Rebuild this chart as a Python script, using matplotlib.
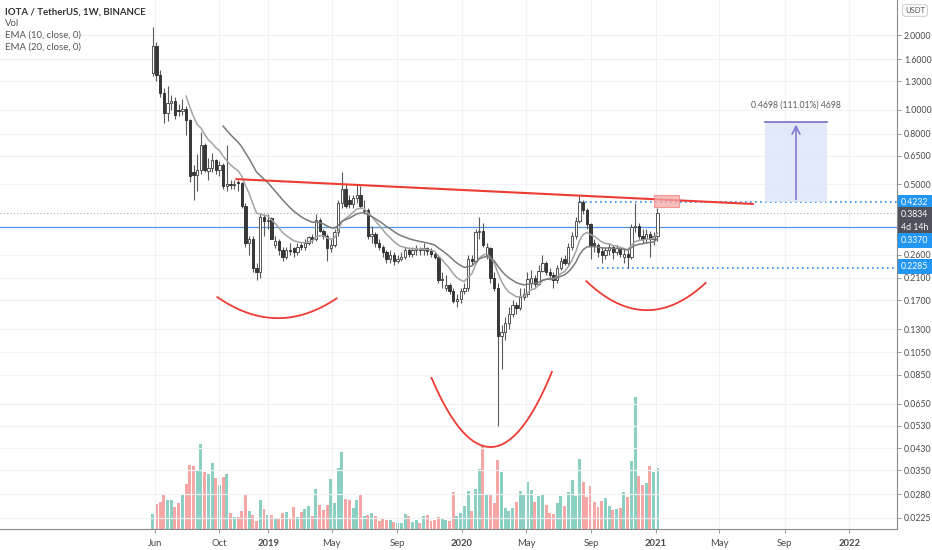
import numpy as np
import pandas as pd
import matplotlib
matplotlib.use('Agg')
import matplotlib.pyplot as plt
import matplotlib.dates as mdates
from matplotlib.patches import Rectangle
from matplotlib.ticker import NullLocator, FixedLocator, FixedFormatter

plt.rcParams['font.family'] = ['Lato', 'DejaVu Sans']

# ---------------- data ----------------
first_week = '2018-05-28'
opens = [1.40, 1.81, 1.38, 1.17, 0.97, 1.06, 1.08, 1.00, 0.99, 1.01,
         0.91, 0.56, 0.545, 0.57, 0.72, 0.565, 0.58, 0.625, 0.57, 0.60,
         0.49, 0.50, 0.495, 0.51, 0.505, 0.41, 0.29, 0.30, 0.23, 0.222,
         0.37, 0.355, 0.365, 0.285, 0.295, 0.27, 0.255, 0.272, 0.275, 0.265,
         0.283, 0.278, 0.29, 0.305, 0.30, 0.36, 0.325, 0.31, 0.275, 0.285,
         0.32, 0.42, 0.48, 0.43, 0.415, 0.44, 0.45, 0.39, 0.395, 0.31,
         0.315, 0.29, 0.28, 0.265, 0.25, 0.26, 0.245, 0.25, 0.255, 0.27,
         0.262, 0.27, 0.273, 0.27, 0.275, 0.27, 0.262, 0.255, 0.205, 0.19,
         0.195, 0.186, 0.169, 0.172, 0.185, 0.19, 0.25, 0.245, 0.32, 0.325,
         0.26, 0.275, 0.21, 0.19, 0.122, 0.126, 0.138, 0.15, 0.162, 0.158,
         0.176, 0.18, 0.20, 0.21, 0.198, 0.224, 0.24, 0.222, 0.215, 0.205,
         0.23, 0.25, 0.24, 0.28, 0.31, 0.355, 0.425, 0.395, 0.345, 0.29,
         0.285, 0.268, 0.258, 0.27, 0.28, 0.265, 0.275, 0.255, 0.262, 0.255,
         0.335, 0.34, 0.31, 0.30, 0.315, 0.30, 0.31]
highs = [2.15, 1.88, 1.45, 1.22, 1.25, 1.15, 1.12, 1.05, 1.10, 1.03,
         0.92, 0.60, 0.66, 0.81, 0.73, 0.64, 0.67, 0.63, 0.62, 0.61,
         0.72, 0.52, 0.52, 0.52, 0.51, 0.42, 0.31, 0.31, 0.24, 0.38,
         0.38, 0.38, 0.37, 0.31, 0.30, 0.28, 0.28, 0.29, 0.28, 0.29,
         0.29, 0.30, 0.31, 0.315, 0.38, 0.365, 0.33, 0.315, 0.30, 0.33,
         0.43, 0.56, 0.50, 0.45, 0.45, 0.495, 0.49, 0.43, 0.40, 0.34,
         0.32, 0.30, 0.285, 0.27, 0.27, 0.265, 0.26, 0.265, 0.28, 0.28,
         0.28, 0.285, 0.28, 0.29, 0.28, 0.275, 0.265, 0.26, 0.22, 0.215,
         0.20, 0.19, 0.18, 0.19, 0.20, 0.26, 0.26, 0.33, 0.37, 0.35,
         0.29, 0.28, 0.22, 0.20, 0.135, 0.145, 0.16, 0.17, 0.168, 0.19,
         0.19, 0.22, 0.225, 0.215, 0.235, 0.26, 0.245, 0.23, 0.22, 0.235,
         0.255, 0.26, 0.29, 0.32, 0.37, 0.45, 0.43, 0.40, 0.35, 0.30,
         0.29, 0.28, 0.28, 0.29, 0.285, 0.285, 0.28, 0.275, 0.27, 0.345,
         0.42, 0.35, 0.33, 0.33, 0.325, 0.32, 0.40]
lows = [1.36, 1.30, 1.12, 0.88, 0.90, 1.00, 0.92, 0.94, 0.95, 0.79,
        0.51, 0.43, 0.47, 0.55, 0.56, 0.52, 0.56, 0.55, 0.54, 0.48,
        0.47, 0.48, 0.48, 0.47, 0.40, 0.28, 0.26, 0.22, 0.205, 0.21,
        0.31, 0.33, 0.30, 0.275, 0.26, 0.245, 0.25, 0.26, 0.255, 0.26,
        0.27, 0.27, 0.285, 0.29, 0.295, 0.32, 0.30, 0.245, 0.265, 0.28,
        0.31, 0.40, 0.40, 0.40, 0.40, 0.42, 0.40, 0.38, 0.30, 0.29,
        0.28, 0.27, 0.255, 0.24, 0.24, 0.235, 0.24, 0.245, 0.25, 0.255,
        0.255, 0.26, 0.26, 0.26, 0.26, 0.255, 0.25, 0.20, 0.19, 0.185,
        0.18, 0.165, 0.16, 0.165, 0.18, 0.185, 0.235, 0.24, 0.30, 0.28,
        0.25, 0.20, 0.185, 0.053, 0.09, 0.118, 0.13, 0.145, 0.15, 0.155,
        0.17, 0.175, 0.19, 0.19, 0.195, 0.22, 0.215, 0.205, 0.19, 0.20,
        0.225, 0.235, 0.235, 0.27, 0.30, 0.35, 0.38, 0.33, 0.25, 0.265,
        0.255, 0.24, 0.25, 0.26, 0.25, 0.26, 0.255, 0.24, 0.229, 0.25,
        0.32, 0.30, 0.29, 0.29, 0.255, 0.285, 0.295]
closes = [1.81, 1.38, 1.17, 0.97, 1.06, 1.08, 0.95, 0.99, 1.01, 0.91,
          0.54, 0.545, 0.57, 0.72, 0.57, 0.58, 0.625, 0.57, 0.60, 0.49,
          0.50, 0.495, 0.50, 0.505, 0.41, 0.29, 0.30, 0.23, 0.222, 0.37,
          0.355, 0.36, 0.30, 0.295, 0.27, 0.255, 0.27, 0.268, 0.265, 0.28,
          0.278, 0.29, 0.305, 0.30, 0.36, 0.325, 0.31, 0.275, 0.285, 0.32,
          0.42, 0.48, 0.41, 0.415, 0.44, 0.45, 0.41, 0.395, 0.31, 0.315,
          0.29, 0.28, 0.265, 0.25, 0.26, 0.245, 0.25, 0.255, 0.27, 0.262,
          0.27, 0.273, 0.27, 0.275, 0.268, 0.262, 0.255, 0.205, 0.208, 0.195,
          0.186, 0.169, 0.172, 0.185, 0.19, 0.25, 0.245, 0.32, 0.325, 0.285,
          0.28, 0.21, 0.19, 0.122, 0.126, 0.138, 0.15, 0.162, 0.158, 0.176,
          0.18, 0.208, 0.21, 0.198, 0.224, 0.24, 0.222, 0.215, 0.205, 0.23,
          0.245, 0.24, 0.28, 0.31, 0.355, 0.425, 0.395, 0.345, 0.285, 0.285,
          0.265, 0.258, 0.27, 0.28, 0.265, 0.275, 0.262, 0.262, 0.255, 0.335,
          0.34, 0.31, 0.30, 0.315, 0.30, 0.31, 0.383]
volumes = [15, 25, 27, 34, 29, 29, 22, 26, 34, 45,
           64, 63, 58, 85, 57, 55, 66, 51, 44, 52,
           55, 16, 12, 12, 18, 34, 18, 14, 8, 29,
           20, 14, 14, 11, 11, 16, 17, 11, 22, 12,
           17, 20, 23, 13, 40, 24, 19, 24, 50, 26,
           61, 77, 30, 29, 21, 29, 35, 13, 14, 16,
           13, 8, 10, 9, 9, 7, 6, 6, 15, 13,
           7, 9, 6, 13, 14, 8, 9, 12, 10, 9,
           8, 37, 13, 16, 23, 38, 18, 40, 60, 83,
           35, 34, 26, 69, 57, 21, 18, 21, 27, 38,
           34, 47, 39, 27, 33, 35, 24, 16, 15, 26,
           33, 23, 37, 49, 33, 70, 47, 32, 43, 27,
           22, 28, 31, 23, 19, 20, 21, 37, 32, 68,
           132, 53, 44, 46, 63, 57, 61]

ytick_values = [2.0, 1.6, 1.3, 1.0, 0.8, 0.65, 0.5, 0.26, 0.21, 0.17, 0.13,
                0.105, 0.085, 0.065, 0.053, 0.043, 0.035, 0.028, 0.0225]
xtick_dates = ['2018-06-01', '2018-10-01', '2019-01-01', '2019-05-01', '2019-09-01',
               '2020-01-01', '2020-05-01', '2020-09-01', '2021-01-01', '2021-05-01',
               '2021-09-01', '2022-01-01']
xtick_labels = ['Jun', 'Oct', '2019', 'May', 'Sep', '2020', 'May', 'Sep', '2021',
                'May', 'Sep', '2022']

# annotations (date, price)
neck_dates = ['2018-11-02', '2021-07-03']
neck_prices = [0.524, 0.416]
box_dates = ['2020-12-28', '2021-02-13']
box_prices = [0.404, 0.452]
measure_dates = ['2021-07-26', '2021-11-20']
measure_prices = [0.4232, 0.893]
measure_text = '0.4698 (111.01%) 4698'
left_arc = (['2018-09-27', '2019-01-13', '2019-05-10'], [0.175, 0.144, 0.173])
head_arc = (['2019-11-05', '2020-02-29', '2020-06-19'], [0.0826, 0.0435, 0.0873])
right_arc = (['2020-08-23', '2020-12-16', '2021-04-05'], [0.203, 0.155, 0.1996])
resist_level, resist_start = 0.4232, '2020-08-11'
support_level, support_start = 0.2285, '2020-09-13'
blue_level = 0.3370
last_price = 0.3834

# ---------------- figure ----------------
W, H = 932, 550
fig = plt.figure(figsize=(W / 100, H / 100), dpi=100)
fig.patch.set_facecolor('white')
ax_bottom_px, ax_right_px = 529, 897
axv = fig.add_axes([0, (H - ax_bottom_px) / H, ax_right_px / W, ax_bottom_px / H])
ax = fig.add_axes([0, (H - ax_bottom_px) / H, ax_right_px / W, ax_bottom_px / H], sharex=axv)
ax.patch.set_visible(False)

dn = lambda s: mdates.date2num(pd.Timestamp(s))
dates = pd.date_range(first_week, periods=len(closes), freq='7D')
x = mdates.date2num(dates)
o, h, l, c = map(np.array, (opens, highs, lows, closes))
up = c >= o

xmin, xmax = dn('2017-08-13'), dn('2022-04-01')

# volume
vol = np.array(volumes, dtype=float)
axv.bar(x, vol, width=5.6, color=np.where(up, '#8cd0c4', '#f5a7a5'), linewidth=0, zorder=1)
axv.set_ylim(0, vol.max() * 4.0)
axv.set_xlim(xmin, xmax)
axv.axis('off')

# price axis
ax.set_yscale('log')
ax.set_ylim(0.02028, 2.769)
ax.set_xlim(xmin, xmax)

# grid
for yv in ytick_values:
    ax.axhline(yv, color='#f0f2f5', lw=0.8, zorder=0)
for xd in xtick_dates:
    ax.axvline(dn(xd), color='#f0f2f5', lw=0.8, zorder=0)

# horizontal levels
ax.axhline(blue_level, color='#4f95e3', lw=0.9, zorder=2)
ax.axhline(last_price, color='#a8a8a8', lw=0.8, ls=(0, (1, 2)), zorder=2)
ax.hlines(resist_level, dn(resist_start), xmax, colors='#2a8ef0', lw=1.2, linestyles=(0, (1, 2)), zorder=2)
ax.hlines(support_level, dn(support_start), xmax, colors='#2a8ef0', lw=1.2, linestyles=(0, (1, 2)), zorder=2)

# candles
ax.vlines(x, l, h, color='#5a5a5a', lw=0.8, zorder=3)
blo, bhi = np.minimum(o, c), np.maximum(o, c)
ax.bar(x[up], bhi[up] - blo[up], bottom=blo[up], width=4.4, color='white',
       edgecolor='#3a3a3a', linewidth=0.6, zorder=4)
ax.bar(x[~up], bhi[~up] - blo[~up], bottom=blo[~up], width=4.4, color='#383838',
       edgecolor='#2a2a2a', linewidth=0.6, zorder=4)

# EMAs (SMA seed like TradingView)
def ema(vals, n):
    vals = np.asarray(vals, dtype=float)
    out = np.full(len(vals), np.nan)
    out[n - 1] = vals[:n].mean()
    a = 2.0 / (n + 1)
    for i in range(n, len(vals)):
        out[i] = a * vals[i] + (1 - a) * out[i - 1]
    return out

ax.plot(x, ema(closes, 10), color='#a3a3a3', lw=1.1, zorder=5)
ax.plot(x, ema(closes, 20), color='#7a7a7a', lw=1.1, zorder=5)

# neckline
ax.plot([dn(d) for d in neck_dates], neck_prices, color='#ee3b34', lw=1.5, zorder=6)

# red box
bx0, bx1 = dn(box_dates[0]), dn(box_dates[1])
ax.add_patch(Rectangle((bx0, box_prices[0]), bx1 - bx0, box_prices[1] - box_prices[0],
                       facecolor='#f6a9a9', edgecolor='#ef7d7d', alpha=0.75, lw=0.8, zorder=6))

# arcs
def arc(ds, ps):
    xs = np.array([dn(d) for d in ds])
    ys = np.log(ps)
    coef = np.polyfit(xs, ys, 2)
    xx = np.linspace(xs[0], xs[-1], 200)
    return xx, np.exp(np.polyval(coef, xx))

for a_d, a_p in (left_arc, head_arc, right_arc):
    xx, yy = arc(a_d, a_p)
    ax.plot(xx, yy, color='#ee3b34', lw=1.3, zorder=6)

# measurement box
mx0, mx1 = dn(measure_dates[0]), dn(measure_dates[1])
mid = (mx0 + mx1) / 2
ax.add_patch(Rectangle((mx0, measure_prices[0]), mx1 - mx0, measure_prices[1] - measure_prices[0],
                       facecolor='#dfe7f6', edgecolor='none', alpha=0.85, zorder=2))
ax.plot([mx0, mx1], [measure_prices[1]] * 2, color='#8479d2', lw=1.3, zorder=6)
ax.annotate('', xy=(mid, measure_prices[1]), xytext=(mid, measure_prices[0]),
            arrowprops=dict(arrowstyle='->', color='#8479d2', lw=1.2, mutation_scale=14), zorder=6)
ax.text(mid, 1.045, measure_text, ha='center', va='center', fontsize=6.2, color='#5b5b5b', zorder=7)

# axes styling
for s in ('top', 'left'):
    ax.spines[s].set_visible(False)
for s in ('right', 'bottom'):
    ax.spines[s].set_color('#8a8a8a')
    ax.spines[s].set_linewidth(0.8)
ax.yaxis.tick_right()
ax.yaxis.set_major_locator(FixedLocator(ytick_values))
ax.yaxis.set_major_formatter(FixedFormatter([f'{v:.4f}' for v in ytick_values]))
ax.yaxis.set_minor_locator(NullLocator())
ax.tick_params(axis='y', which='major', direction='out', length=3, width=0.6,
               color='#8a8a8a', labelsize=6.3, labelcolor='#4a4a4a', pad=2)
ax.set_xticks([dn(d) for d in xtick_dates])
ax.set_xticklabels(xtick_labels)
ax.tick_params(axis='x', direction='out', length=3, width=0.6, color='#8a8a8a',
               labelsize=6.8, labelcolor='#4a4a4a', pad=4)
for lab in ax.get_xticklabels():
    if lab.get_text().isdigit():
        lab.set_fontweight('bold')

# right price labels
def plabel(price, text, fc, dy_px=0.0):
    ax.annotate(text, xy=(1, price), xycoords=('axes fraction', 'data'),
                xytext=(3, dy_px * 0.72), textcoords='offset points',
                ha='left', va='center', fontsize=6.3, color='white',
                bbox=dict(boxstyle='square,pad=0.35', fc=fc, ec='none'),
                annotation_clip=False, zorder=10)

plabel(resist_level, f'{resist_level:.4f}', '#2196f3', 0)
plabel(last_price, f'{last_price:.4f}', '#4f525b', -2)
plabel(last_price, '4d 14h', '#4f525b', -15)
plabel(blue_level, f'{blue_level:.4f}', '#2196f3', -14)
plabel(support_level, f'{support_level:.4f}', '#2196f3', 2)

fig.text(915 / W, 1 - 10.5 / H, 'USDT', ha='center', va='center', fontsize=5.5, color='#555',
         bbox=dict(boxstyle='round,pad=0.3,rounding_size=0.3', fc='white', ec='#c4c4c4', lw=0.6))

# legend texts
fig.text(5 / W, 1 - 12 / H, 'IOTA / TetherUS, 1W, BINANCE', ha='left', va='center',
         fontsize=6.9, fontweight='bold', color='#333333')
for yy, t in ((24, 'Vol'), (35.5, 'EMA (10, close, 0)'), (47, 'EMA (20, close, 0)')):
    fig.text(5 / W, 1 - yy / H, t, ha='left', va='center', fontsize=6.9, color='#555555')

fig.savefig('out.png', dpi=100, facecolor='white')
